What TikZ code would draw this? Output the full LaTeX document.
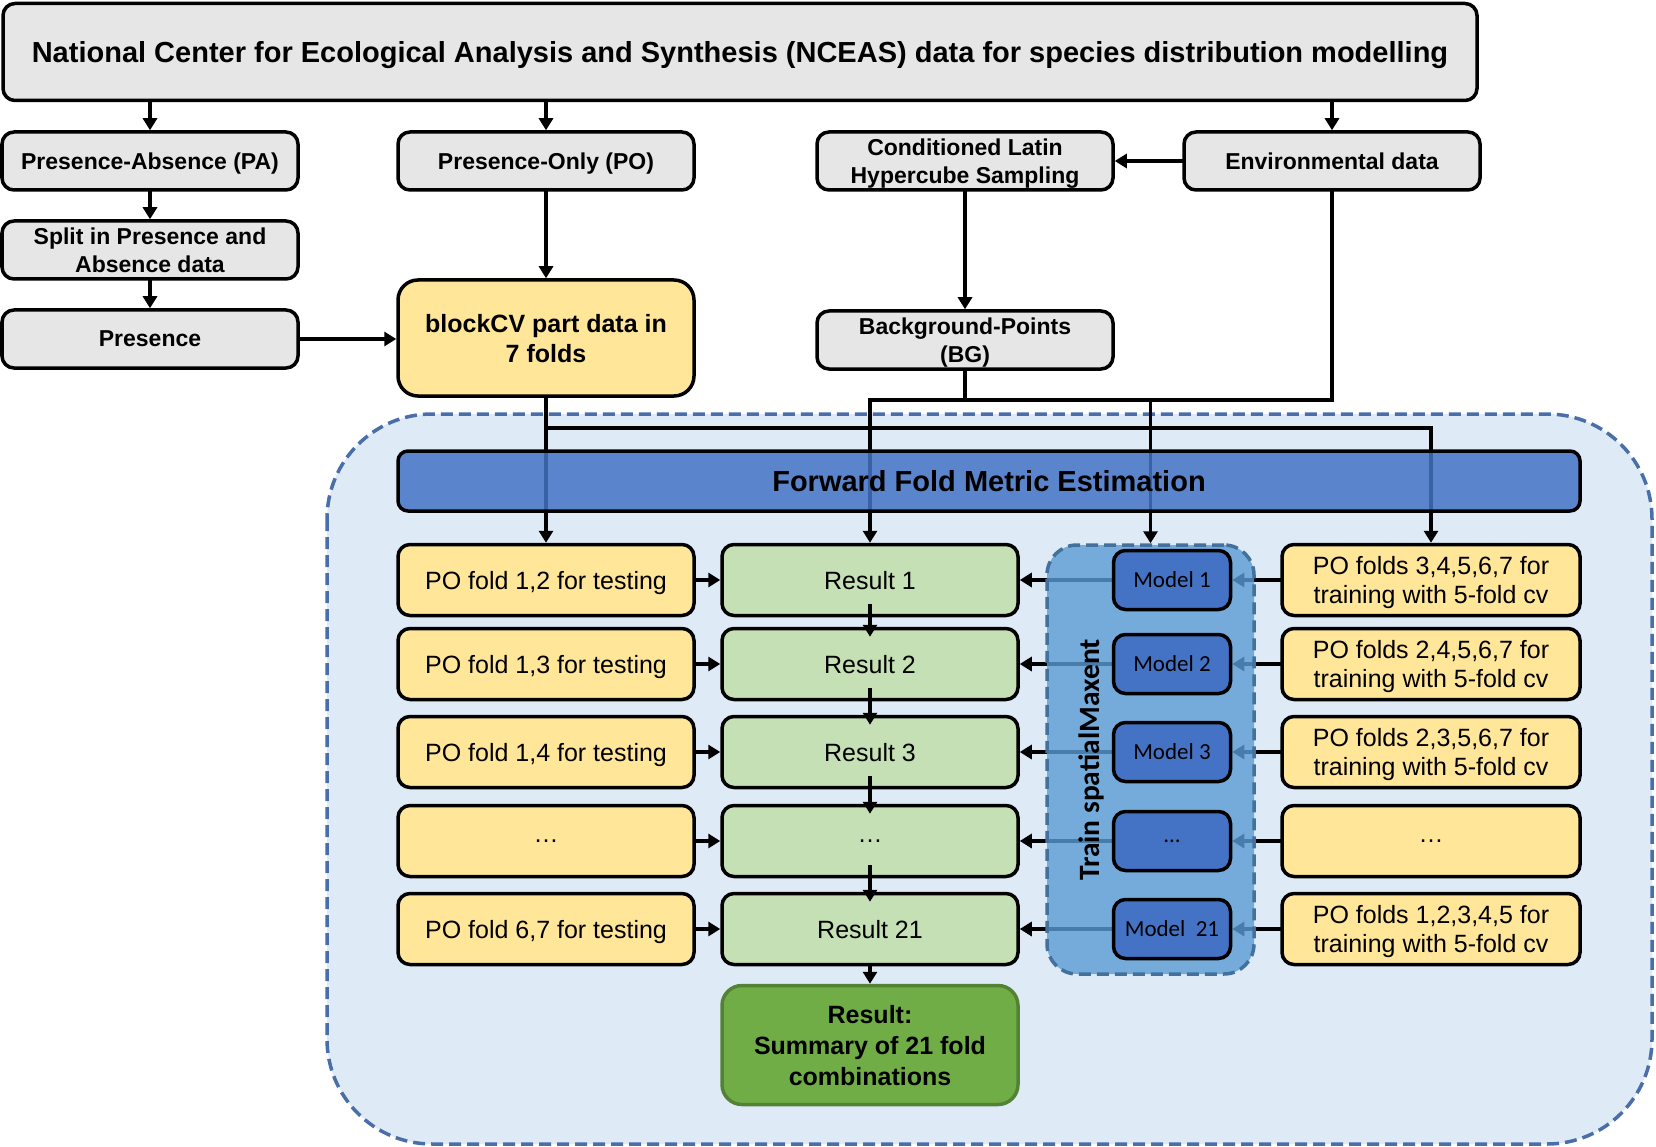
\documentclass[tikz,border=0pt]{standalone}
\usepackage{fontspec}
\setmainfont{Liberation Sans}
\newfontfamily\calfont{Carlito}
\usetikzlibrary{arrows.meta, positioning, calc}
\definecolor{boxgrey}{RGB}{230,230,230}
\definecolor{foldyellow}{RGB}{255,230,153}
\definecolor{resgreen}{RGB}{197,224,180}
\definecolor{sumgreen}{RGB}{112,173,71}
\definecolor{sumedge}{RGB}{84,130,53}
\definecolor{modelblue}{RGB}{68,114,196}
\definecolor{trainblue}{RGB}{91,155,213}
\definecolor{trainedge}{RGB}{65,113,156}
\definecolor{outerfill}{RGB}{222,235,247}
\definecolor{outeredge}{RGB}{74,110,168}

\pgfdeclarelayer{back}
\pgfdeclarelayer{lines}
\pgfdeclarelayer{veil}
\pgfdeclarelayer{front}
\pgfsetlayers{back,main,lines,veil,front}

\begin{document}
\begin{tikzpicture}[x=1pt, y=-1pt,
  box/.style={draw, line width=3.5pt, rounded corners=12pt, align=center, inner sep=0pt, text depth=0pt},
  greybox/.style={box, fill=boxgrey, font=\bfseries\fontsize{23}{27.5}\selectfont, minimum width=296pt, minimum height=58pt},
  testbox/.style={box, fill=foldyellow, font=\fontsize{25}{28.5}\selectfont, minimum width=296pt, minimum height=71pt},
  resbox/.style={box, fill=resgreen, font=\fontsize{25}{28.5}\selectfont, minimum width=296pt, minimum height=71pt},
  modelbox/.style={box, fill=modelblue, font=\calfont\fontsize{23}{25}\selectfont, minimum width=117pt, minimum height=59pt},
  link/.style={line width=3.5pt, line cap=rect},
  arr/.style={link, -{Triangle[length=12pt, width=14pt]}}
]
\useasboundingbox (0,0) rectangle (1656,1147);

% Data source
\node[box, fill=boxgrey, font=\bfseries\fontsize{29}{32}\selectfont, minimum width=1474pt, minimum height=97pt] (nceas) at (740,52) {National Center for Ecological Analysis and Synthesis (NCEAS) data for species distribution modelling};

% Data types
\node[greybox] (pa) at (150,161) {Presence-Absence (PA)};
\node[greybox] (po) at (546,161) {Presence-Only (PO)};
\node[greybox] (clhs) at (965,161) {Conditioned Latin\\Hypercube Sampling};
\node[greybox] (env) at (1332,161) {Environmental data};
\node[greybox] (split) at (150,250) {Split in Presence and\\Absence data};
\node[greybox] (pres) at (150,339) {Presence};
\node[box, fill=foldyellow, rounded corners=20pt, font=\bfseries\fontsize{25}{30}\selectfont, minimum width=296pt, minimum height=116pt] (block) at (546,338) {blockCV part data in\\7 folds};
\node[greybox] (bg) at (965,340) {Background-Points\\(BG)};

% Forward fold frame
\begin{pgfonlayer}{back}
\draw[outeredge, fill=outerfill, line width=3.5pt, dash pattern=on 12pt off 6pt, rounded corners=105pt] (327,414) rectangle (1652,1144);
\end{pgfonlayer}

% Test folds
\node[testbox] (test1) at (546,580) {PO fold 1,2 for testing};
\node[testbox] (test2) at (546,664) {PO fold 1,3 for testing};
\node[testbox] (test3) at (546,752) {PO fold 1,4 for testing};
\node[testbox] (test4) at (546,841) {…};
\node[testbox] (test5) at (546,929) {PO fold 6,7 for testing};

% Results
\node[resbox] (res1) at (870,580) {Result 1};
\node[resbox] (res2) at (870,664) {Result 2};
\node[resbox] (res3) at (870,752) {Result 3};
\node[resbox] (res4) at (870,841) {…};
\node[resbox] (res5) at (870,929) {Result 21};

% Training folds
\node[testbox, minimum width=298pt] (train1) at (1431,580) {PO folds 3,4,5,6,7 for\\training with 5-fold cv};
\node[testbox, minimum width=298pt] (train2) at (1431,664) {PO folds 2,4,5,6,7 for\\training with 5-fold cv};
\node[testbox, minimum width=298pt] (train3) at (1431,752) {PO folds 2,3,5,6,7 for\\training with 5-fold cv};
\node[testbox, minimum width=298pt] (train4) at (1431,841) {…};
\node[testbox, minimum width=298pt] (train5) at (1431,929) {PO folds 1,2,3,4,5 for\\training with 5-fold cv};

% Summary
\node[box, draw=sumedge, fill=sumgreen, rounded corners=20pt, font=\bfseries\fontsize{25}{31}\selectfont, minimum width=296pt, minimum height=119pt] (summary) at (870,1045) {Result:\\Summary of 21 fold\\combinations};

\begin{pgfonlayer}{veil}
\node[box, fill=modelblue, fill opacity=0.85, text opacity=1, rounded corners=10pt, font=\bfseries\fontsize{29}{32}\selectfont, minimum width=1182pt, minimum height=60pt] (fwd) at (989,481) {Forward Fold Metric Estimation};
\node[draw=trainedge, fill=trainblue, fill opacity=0.8, line width=3.5pt, dash pattern=on 12pt off 6pt, rounded corners=30pt, minimum width=207pt, minimum height=429pt] (trainbox) at (1150.5,759.5) {};
\end{pgfonlayer}

% Models
\begin{pgfonlayer}{front}
\node[modelbox] (model1) at (1172,580) {Model 1};
\node[modelbox] (model2) at (1172,664) {Model 2};
\node[modelbox] (model3) at (1172,752) {Model 3};
\node[modelbox] (model4) at (1172,841) {…};
\node[modelbox] (model5) at (1172,929) {Model~~21};
\node[rotate=90, font=\calfont\bfseries\fontsize{29.5}{32}\selectfont] (trainlbl) at (1091,760) {Train spatialMaxent};
\end{pgfonlayer}

% Connectors
\begin{pgfonlayer}{lines}
\draw[arr] (nceas.south -| pa.north) -- (pa.north);
\draw[arr] (nceas.south -| po.north) -- (po.north);
\draw[arr] (nceas.south -| env.north) -- (env.north);
\draw[arr] (pa.south) -- (split.north);
\draw[arr] (split.south) -- (pres.north);
\draw[arr] (pres.east) -- (pres.east -| block.west);
\draw[arr] (po.south) -- (block.north);
\draw[arr] (env.west) -- (clhs.east);
\draw[arr] (clhs.south) -- (bg.north);

\coordinate (jfold) at (546,428);
\coordinate (jbg) at (965,400);
\draw[arr] (block.south) -- (test1.north);
\draw[arr] (jfold) -| (train1.north);
\draw[link] (bg.south) -- (jbg);
\draw[link] (env.south) |- (jbg);
\draw[arr] (jbg) -| (res1.north);
\draw[arr] (jbg) -| (trainbox.north);

\foreach \i in {1,...,5} {
  \draw[arr] (test\i.east) -- (res\i.west);
  \draw[arr] (train\i.west) -- (model\i.east);
  \draw[arr] (model\i.west) -- (res\i.east);
}
\foreach \i/\j in {1/2,2/3,3/4,4/5}
  \draw[arr] ([yshift=12pt]res\i.south) -- ([yshift=-10pt]res\j.north);
\draw[arr] (res5.south) -- (summary.north);
\end{pgfonlayer}
\end{tikzpicture}
\end{document}
